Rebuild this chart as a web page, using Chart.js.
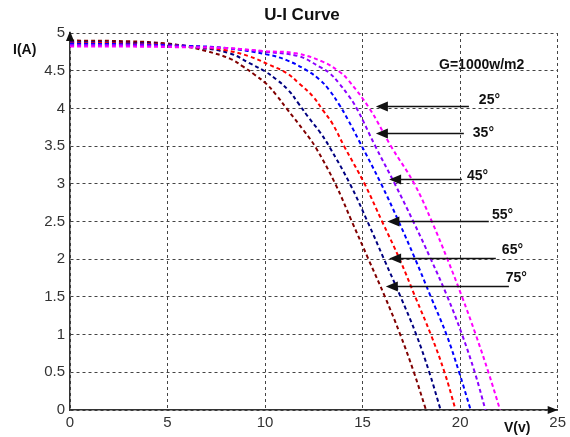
<!DOCTYPE html>
<html>
<head>
<meta charset="utf-8">
<title>U-I Curve</title>
<script src="https://cdn.jsdelivr.net/npm/chart.js@4.4.1/dist/chart.umd.min.js"></script>
<style>
  html, body { margin: 0; padding: 0; background: #fff; }
  #wrap { width: 570px; height: 437px; }
</style>
</head>
<body>
<div id="wrap"><canvas id="uiChart" width="570" height="437"></canvas></div>
<script>
// cell temperatures, one curve each
const temperatures = ['25°', '35°', '45°', '55°', '65°', '75°'];
const curveColors = ['#ff00ff', '#8b00ff', '#0000ff', '#ff0000', '#000080', '#800000'];

// voltage (V) and current (A) points
const volts25 = [0, 3, 6, 8, 10, 11.6, 12.95, 13.8, 14.25, 15.35, 16.45, 17.65, 18.55, 19.35, 20.1, 20.8, 21.45, 22.05];
const amps25  = [4.82, 4.82, 4.81, 4.8, 4.76, 4.73, 4.62, 4.49, 4.38, 4.0, 3.5, 3.0, 2.5, 2.0, 1.5, 1.0, 0.5, 0];

const volts35 = [0, 3, 6, 8, 10, 11.75, 12.8, 13.3, 13.8, 14.25, 14.7, 15.65, 16.65, 17.6, 18.5, 19.35, 20.1, 20.75, 21.3];
const amps35  = [4.84, 4.84, 4.82, 4.8, 4.75, 4.69, 4.55, 4.47, 4.33, 4.18, 4.0, 3.5, 3.0, 2.5, 2.0, 1.5, 1.0, 0.5, 0];

const volts45 = [0, 3, 6, 8, 10.2, 11.1, 12.1, 12.8, 13.3, 13.8, 14.25, 14.8, 15.95, 16.85, 17.7, 18.5, 19.3, 19.95, 20.54];
const amps45  = [4.86, 4.85, 4.83, 4.8, 4.71, 4.64, 4.51, 4.38, 4.24, 4.05, 3.85, 3.58, 3.0, 2.5, 2.0, 1.5, 1.0, 0.5, 0];

const volts55 = [0, 3, 6, 8, 9.2, 10.2, 11.1, 11.75, 12.45, 12.95, 13.45, 14.05, 15.1, 16.0, 16.9, 17.7, 18.5, 19.2, 19.77];
const amps55  = [4.87, 4.86, 4.83, 4.77, 4.69, 4.58, 4.47, 4.33, 4.16, 3.98, 3.8, 3.5, 3.0, 2.5, 2.0, 1.5, 1.0, 0.5, 0];

const volts65 = [0, 3, 5, 6.5, 8.2, 9.2, 10.0, 10.6, 11.2, 11.7, 12.2, 12.8, 13.3, 14.35, 15.25, 16.1, 16.95, 17.75, 18.42, 19.0];
const amps65  = [4.88, 4.87, 4.85, 4.81, 4.73, 4.6, 4.49, 4.38, 4.24, 4.07, 3.89, 3.69, 3.49, 3.0, 2.5, 2.0, 1.5, 1.0, 0.5, 0];

const volts75 = [0, 3, 5, 6, 7, 8.2, 8.9, 9.5, 10.05, 10.6, 11.1, 12.0, 12.6, 13.6, 14.45, 15.3, 16.15, 16.93, 17.63, 18.25];
const amps75  = [4.90, 4.89, 4.86, 4.82, 4.76, 4.66, 4.55, 4.44, 4.33, 4.17, 4.0, 3.7, 3.48, 3.0, 2.5, 2.0, 1.5, 1.0, 0.5, 0];

const voltSeries = [volts25, volts35, volts45, volts55, volts65, volts75];
const ampSeries = [amps25, amps35, amps45, amps55, amps65, amps75];

// pointer arrows: tip on the curve, tail to the right, label after it (data units)
const arrowTipV  = [15.68, 15.68, 16.36, 16.27, 16.36, 16.19];
const arrowTipI  = [4.03, 3.68, 3.07, 2.51, 2.01, 1.64];
const arrowTailV = [20.45, 20.19, 20.09, 21.47, 21.83, 22.5];
const labelV     = [20.96, 20.65, 20.35, 21.63, 22.14, 22.34];
const labelI     = [4.11, 3.67, 3.10, 2.59, 2.12, 1.75];

const irradianceText = 'G=1000w/m2';
const irradianceV = 18.92;
const irradianceI = 4.58;

const FONT = '"Liberation Sans", Arial, sans-serif';

// build the datasets from the arrays above
const datasets = temperatures.map((t, i) => ({
    label: t,
    data: voltSeries[i].map((v, k) => ({ x: v, y: ampSeries[i][k] })),
    borderColor: curveColors[i],
    borderWidth: 2,
    borderDash: [4, 3],
    pointRadius: 0,
    fill: false,
    tension: 0.4
}));

// title, axis names, axis arrows and the temperature pointers
const overlay = {
    id: 'overlay',
    afterDraw(chart) {
        const { ctx, scales: { x, y } } = chart;
        const left = x.left, bottom = y.bottom, top = y.top, right = x.right;
        ctx.save();

        ctx.fillStyle = '#111';
        ctx.font = 'bold 17px ' + FONT;
        ctx.textAlign = 'center';
        ctx.textBaseline = 'middle';
        ctx.fillText('U-I Curve', 302, 15);

        ctx.font = 'bold 14px ' + FONT;
        ctx.textAlign = 'left';
        ctx.fillText('I(A)', 13, 50);
        ctx.fillText('V(v)', 504, 428);

        // axis arrow heads
        ctx.beginPath();
        ctx.moveTo(left, top - 2);
        ctx.lineTo(left - 4, top + 8);
        ctx.lineTo(left + 4, top + 8);
        ctx.closePath();
        ctx.fill();
        ctx.beginPath();
        ctx.moveTo(right, bottom);
        ctx.lineTo(right - 10, bottom - 4);
        ctx.lineTo(right - 10, bottom + 4);
        ctx.closePath();
        ctx.fill();

        // pointers to each curve
        ctx.strokeStyle = '#111';
        ctx.lineWidth = 1.5;
        temperatures.forEach((t, i) => {
            const tipX = x.getPixelForValue(arrowTipV[i]);
            const py = Math.round(y.getPixelForValue(arrowTipI[i])) + 0.5;
            const tailX = x.getPixelForValue(arrowTailV[i]);
            ctx.beginPath();
            ctx.moveTo(tipX + 8, py);
            ctx.lineTo(tailX, py);
            ctx.stroke();
            ctx.beginPath();
            ctx.moveTo(tipX, py);
            ctx.lineTo(tipX + 12, py - 5);
            ctx.lineTo(tipX + 12, py + 5);
            ctx.closePath();
            ctx.fill();
            ctx.fillText(t, x.getPixelForValue(labelV[i]), y.getPixelForValue(labelI[i]));
        });

        ctx.fillText(irradianceText, x.getPixelForValue(irradianceV), y.getPixelForValue(irradianceI));
        ctx.restore();
    }
};

new Chart(document.getElementById('uiChart'), {
    type: 'line',
    data: { datasets: datasets },
    options: {
        responsive: false,
        animation: false,
        layout: { padding: { top: 33, right: 11, left: 0, bottom: 0 } },
        plugins: {
            legend: { display: false },
            title: { display: false },
            tooltip: { enabled: false }
        },
        scales: {
            x: {
                type: 'linear',
                min: 0,
                max: 25,
                afterFit: (scale) => { scale.height = 27; },
                ticks: {
                    stepSize: 5,
                    padding: 4,
                    maxRotation: 0,
                    color: '#333',
                    font: { family: FONT, size: 15 }
                },
                grid: { color: '#444', lineWidth: 1, drawTicks: false },
                border: { display: true, color: '#333', width: 1.5, dash: [3, 3] }
            },
            y: {
                type: 'linear',
                min: 0,
                max: 5,
                afterFit: (scale) => { scale.width = 70; },
                ticks: {
                    stepSize: 0.5,
                    padding: 5,
                    color: '#333',
                    font: { family: FONT, size: 15 },
                    callback: (v) => String(v)
                },
                grid: { color: '#444', lineWidth: 1, drawTicks: false },
                border: { display: true, color: '#333', width: 1.5, dash: [3, 3] }
            }
        }
    },
    plugins: [overlay]
});
</script>
</body>
</html>
